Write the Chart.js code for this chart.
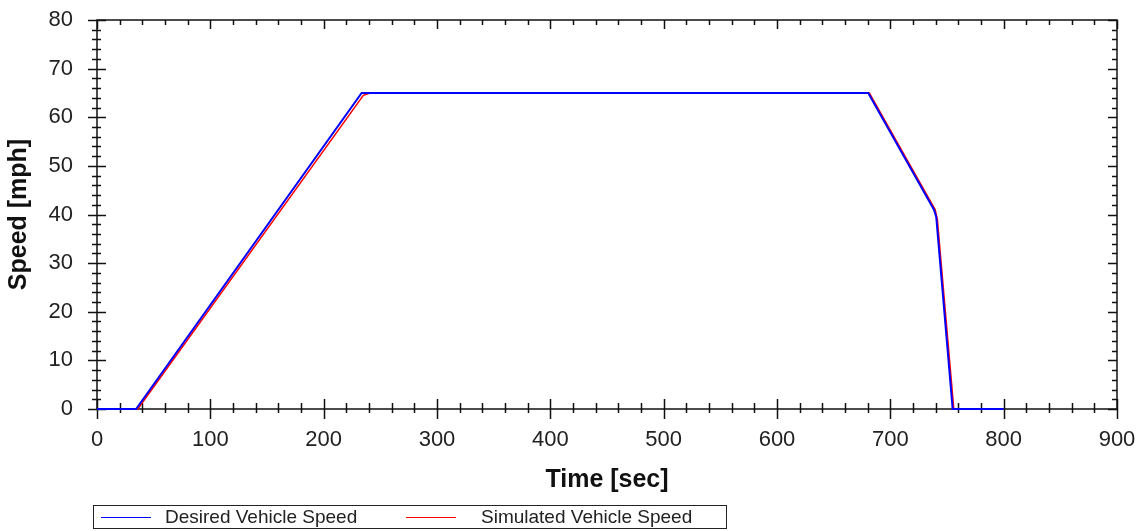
<!DOCTYPE html>
<html>
<head>
<meta charset="utf-8">
<script src="https://cdn.jsdelivr.net/npm/chart.js@4.4.1/dist/chart.umd.min.js"></script>
<style>
  html, body { margin: 0; padding: 0; background: #fff; }
  #wrap { position: relative; width: 1141px; height: 531px; }
  #legend {
    position: absolute; left: 93px; top: 505px; width: 632px; height: 22px;
    border: 1px solid #222; font: 19px "Liberation Sans", Arial, sans-serif; color: #222;
  }
  #legend .item { position: absolute; top: 0; line-height: 22px; white-space: nowrap; }
  #legend .swatch { position: absolute; top: 11px; width: 50px; height: 1px; }
</style>
</head>
<body>
<div id="wrap">
  <canvas id="chart" width="1141" height="531"></canvas>
  <div id="legend"></div>
</div>
<script>
// time [sec] / speed [mph]
const desiredTime  = [0, 34.5, 233.5, 680.5, 738.5, 740.5, 755, 800];
const desiredSpeed = [0, 0,    65,    65,    41,    39.5,  0,   0];
const simTime  = [0, 36, 235, 241, 681.5, 739.5, 741.5, 756, 800];
const simSpeed = [0, 0,  64.5, 65, 65,    41,    39,    0,   0];

const seriesNames = ['Desired Vehicle Speed', 'Simulated Vehicle Speed'];
const seriesColors = ['#0000ff', '#ff0000'];

const toPoints = (xs, ys) => xs.map((t, i) => ({ x: t, y: ys[i] }));

const font = '"Liberation Sans", Arial, sans-serif';

// draws the frame plus major/minor ticks that cross the axes
const frameTicks = {
  id: 'frameTicks',
  beforeDatasetsDraw(chart) {
    const { ctx, chartArea: a, scales: { x, y } } = chart;
    ctx.save();
    ctx.strokeStyle = '#111';
    ctx.lineWidth = 1.5;
    ctx.strokeRect(a.left, a.top, a.right - a.left, a.bottom - a.top);
    ctx.beginPath();
    for (let v = x.min; v <= x.max; v += 20) {
      const px = Math.round(x.getPixelForValue(v)) + 0.5;
      const major = v % 100 === 0;
      ctx.moveTo(px, a.bottom - (major ? 10 : 6));
      ctx.lineTo(px, a.bottom + (major ? 10 : 4));
      ctx.moveTo(px, a.top);
      ctx.lineTo(px, a.top + (major ? 9 : 5));
    }
    for (let v = y.min; v <= y.max; v += 2) {
      const py = Math.round(y.getPixelForValue(v)) + 0.5;
      const major = v % 10 === 0;
      ctx.moveTo(a.left - (major ? 9 : 5), py);
      ctx.lineTo(a.left + (major ? 9 : 4), py);
      ctx.moveTo(a.right, py);
      ctx.lineTo(a.right - (major ? 9 : 5), py);
    }
    ctx.stroke();
    ctx.restore();
  }
};

new Chart(document.getElementById('chart'), {
  type: 'line',
  data: {
    datasets: [
      {
        label: seriesNames[0],
        data: toPoints(desiredTime, desiredSpeed),
        borderColor: seriesColors[0],
        borderWidth: 2,
        pointRadius: 0,
        tension: 0,
        clip: false,
      },
      {
        label: seriesNames[1],
        data: toPoints(simTime, simSpeed),
        borderColor: seriesColors[1],
        borderWidth: 1.5,
        pointRadius: 0,
        tension: 0,
        clip: false,
      },
    ],
  },
  options: {
    responsive: false,
    animation: false,
    layout: { padding: { left: 0, right: 24, top: 20, bottom: 0 } },
    plugins: { legend: { display: false }, tooltip: { enabled: false } },
    scales: {
      x: {
        type: 'linear',
        min: 0,
        max: 900,
        grid: { display: false, drawTicks: false },
        border: { display: false },
        ticks: { stepSize: 100, padding: 18, color: '#222', font: { family: font, size: 22 } },
        title: {
          display: true,
          text: 'Time [sec]',
          color: '#111',
          font: { family: font, size: 25, weight: 'bold' },
          padding: { top: 0, bottom: 36 },
        },
        afterFit(scale) {
          scale.height = 122;
          scale.paddingLeft = 0;
          scale.paddingRight = 0;
        },
      },
      y: {
        min: 0,
        max: 80,
        grid: { display: false, drawTicks: false },
        border: { display: false },
        ticks: { stepSize: 10, padding: 24, color: '#222', font: { family: font, size: 22 } },
        title: {
          display: true,
          text: 'Speed [mph]',
          color: '#111',
          font: { family: font, size: 25, weight: 'bold' },
          padding: { top: 4, bottom: 0 },
        },
        afterFit(scale) {
          scale.width = 97;
          scale.paddingTop = 0;
          scale.paddingBottom = 0;
        },
      },
    },
  },
  plugins: [frameTicks],
});

// legend box below the chart
const legend = document.getElementById('legend');
const swatchX = [7, 312];
const textX = [71, 387];
seriesNames.forEach((name, i) => {
  const sw = document.createElement('div');
  sw.className = 'swatch';
  sw.style.left = swatchX[i] + 'px';
  sw.style.backgroundColor = seriesColors[i];
  legend.appendChild(sw);
  const tx = document.createElement('div');
  tx.className = 'item';
  tx.style.left = textX[i] + 'px';
  tx.textContent = name;
  legend.appendChild(tx);
});
</script>
</body>
</html>
